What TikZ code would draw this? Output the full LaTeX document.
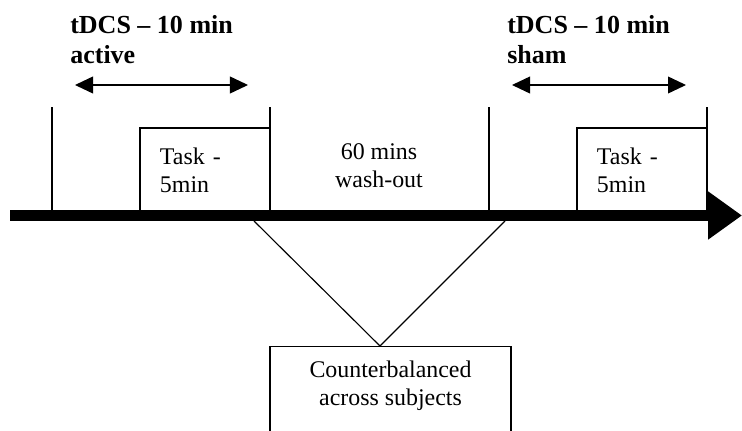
\documentclass[tikz,border=0pt]{standalone}
\usepackage{fontspec}
\setmainfont{Liberation Serif}
\usetikzlibrary{arrows.meta, positioning}
\tikzset{
    taskbox/.style={rectangle, draw=black, fill=white, line width=0.8pt, minimum width=3.25cm, minimum height=2.125cm, text width=2.25cm, inner xsep=0.5cm, align=left, font=\fontsize{17}{20}\selectfont},
    subjbox/.style={rectangle, draw=black, fill=white, line width=0.8pt, minimum width=6.025cm, minimum height=2.75cm, anchor=north},
    phase/.style={align=left, inner sep=0pt, anchor=north west, font=\fontsize{18.5}{21.3}\selectfont\bfseries},
    plain/.style={align=center, font=\fontsize{17}{20}\selectfont},
    span/.style={{Triangle[length=0.45cm,width=0.42cm]}-{Triangle[length=0.45cm,width=0.42cm]}, line width=0.9pt},
    marker/.style={line width=0.8pt},
    timeline/.style={-{Triangle[length=0.85cm,width=1.15cm]}, line width=0.275cm}
}

\begin{document}
\begin{tikzpicture}[x=0.025cm, y=0.025cm]
    \useasboundingbox (0,0) rectangle (742,430);

    % time axis end points
    \coordinate (start) at (10,214.5);
    \coordinate (end) at (742,214.5);

    % session markers
    \coordinate (m1) at (52,323);
    \coordinate (m2) at (270,323);
    \coordinate (m3) at (489,323);
    \coordinate (m4) at (707,323);
    \draw [marker] (m1) -- (m1 |- start);
    \draw [marker] (m2) -- (m2 |- start);
    \draw [marker] (m3) -- (m3 |- start);
    \draw [marker] (m4) -- (m4 |- start);

    \node (task1) [taskbox] at (205,259.5) {Task -\\5min};
    \node (task2) [taskbox] at (642,259.5) {Task -\\5min};

    \node (wash) [plain] at (379,264) {60 mins\\wash-out};

    \node (active) [phase] at (70,415) {tDCS -- 10 min\\active};
    \node (sham) [phase] at (507,415) {tDCS -- 10 min\\sham};

    \coordinate (a1) at (75,345);
    \coordinate (a2) at (248,345);
    \coordinate (s1) at (512,345);
    \coordinate (s2) at (686,345);
    \draw [span] (a1) -- (a2);
    \draw [span] (s1) -- (s2);

    \draw [timeline] (start) -- (end);

    % counterbalancing
    \node (subj) [subjbox] at (390.5,84) {};
    \node (subjtext) [plain] at ([yshift=-1cm]subj.north) {Counterbalanced\\across subjects};
    \coordinate (apex) at (380,84);
    \coordinate (c1) at (254,209);
    \coordinate (c2) at (505,209);
    \draw [marker] (c1) -- (apex) -- (c2);
\end{tikzpicture}
\end{document}
